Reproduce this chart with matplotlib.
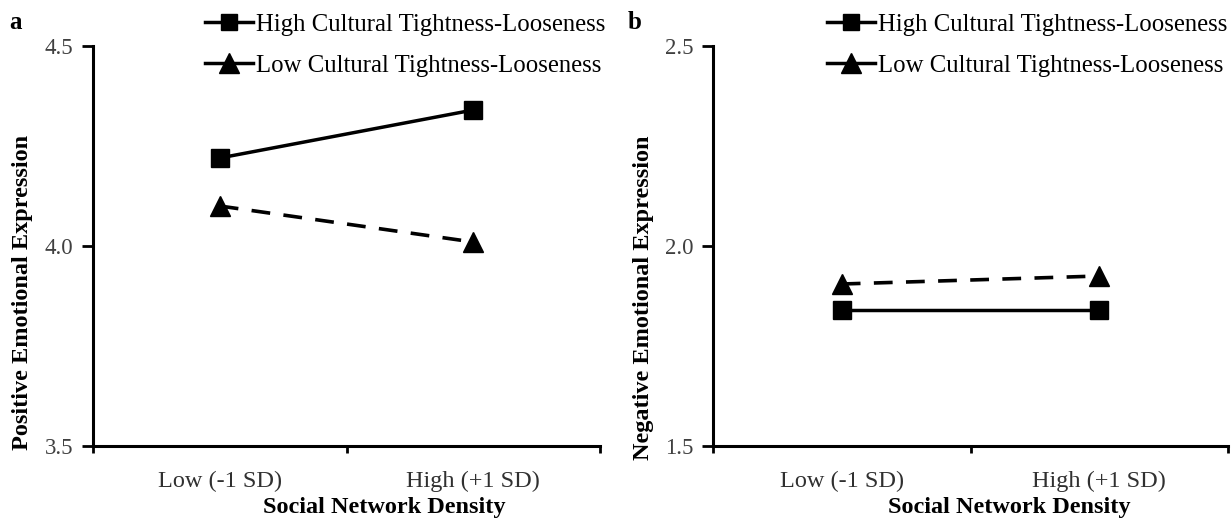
import matplotlib
matplotlib.use('Agg')
import matplotlib.pyplot as plt
from matplotlib.lines import Line2D

categories = ["Low (-1 SD)", "High (+1 SD)"]
series_names = ["High Cultural Tightness-Looseness", "Low Cultural Tightness-Looseness"]

pos_high = [4.22, 4.34]
pos_low = [4.10, 4.01]
neg_high = [1.84, 1.84]
neg_low = [1.905, 1.925]

pos_ticks = [3.5, 4.0, 4.5]
neg_ticks = [1.5, 2.0, 2.5]

plt.rcParams['font.family'] = ['Liberation Serif', 'DejaVu Serif']

fig = plt.figure(figsize=(12.32, 5.27), dpi=100)
ax_a = fig.add_axes([0.0755, 0.1537, 0.4115, 0.759])
ax_b = fig.add_axes([0.5787, 0.1537, 0.4181, 0.759])


def draw_panel(ax, high, low, yticks, ylabel, letter, ylab_x, ylab_y):
    x = [0.5, 1.5]
    ax.plot(x, high, color='black', lw=2.5, marker='s', markersize=13)
    ax.plot(x, low, color='black', lw=2.6, linestyle=(0, (5.2, 3.7)), marker='^',
            markersize=15)
    ax.set_xlim(0, 2)
    ax.set_ylim(yticks[0], yticks[-1])
    ax.set_yticks(yticks)
    ax.set_yticklabels(["%.1f" % t for t in yticks], fontsize=16.5, color='#404040')
    ax.set_xticks([0, 1, 2])
    ax.set_xticklabels([])
    ax.set_xticks(x, minor=True)
    ax.set_xticklabels(categories, minor=True, fontsize=17.5, color='#303030')
    ax.tick_params(axis='x', which='minor', length=0, pad=18)
    ax.tick_params(axis='x', which='major', length=5, width=2, direction='out')
    ax.tick_params(axis='y', length=8, width=2, direction='out', pad=6)
    for s in ['top', 'right']:
        ax.spines[s].set_visible(False)
    for s in ['left', 'bottom']:
        ax.spines[s].set_linewidth(2.2)
    ax.set_ylabel(ylabel, fontsize=17.5, fontweight='bold')
    ax.yaxis.set_label_coords(ylab_x, ylab_y)
    ax.set_xlabel("Social Network Density", fontsize=17.5, fontweight='bold')
    ax.xaxis.set_label_coords(0.575, -0.1275)
    handles = [Line2D([], [], color='black', lw=2.5, marker='s', markersize=12),
               Line2D([], [], color='black', lw=2.5, marker='^', markersize=14)]
    ax.legend(handles, series_names, loc='upper left', bbox_to_anchor=(0.221, 1.082),
              frameon=False, fontsize=17.8, borderpad=0, borderaxespad=0,
              handlelength=1.95, handletextpad=0.12, labelspacing=0.76)
    ax.text(-0.165, 1.06, letter, transform=ax.transAxes, fontsize=18,
            fontweight='bold', va='center', ha='left')


draw_panel(ax_a, pos_high, pos_low, pos_ticks, "Positive Emotional Expression", "a",
           -0.118, 0.385)
draw_panel(ax_b, neg_high, neg_low, neg_ticks, "Negative Emotional Expression", "b",
           -0.115, 0.37)

fig.savefig("out.png", dpi=100)
